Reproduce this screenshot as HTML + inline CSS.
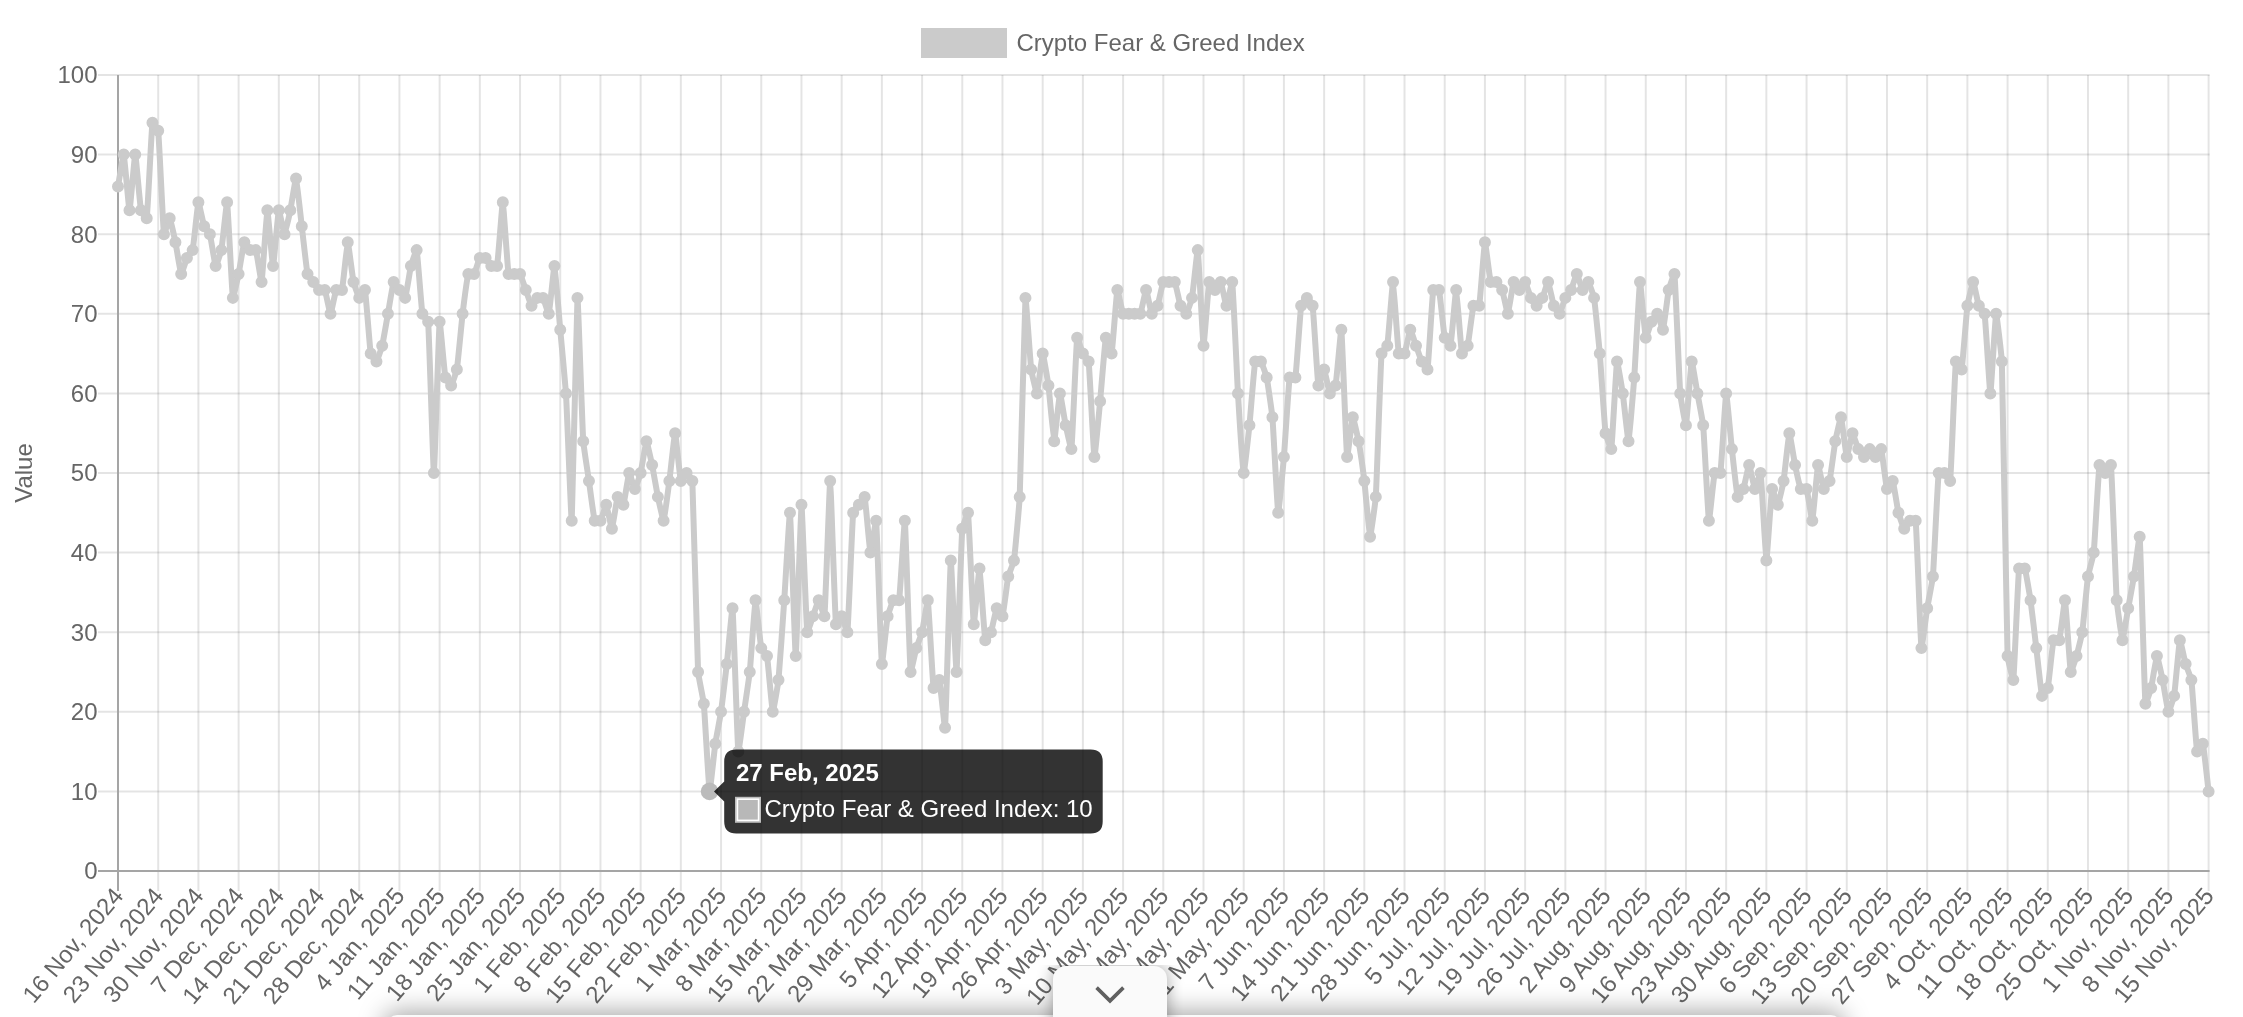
<!DOCTYPE html><html><head><meta charset="utf-8"><title>Crypto Fear &amp; Greed Index</title><style>
html,body{margin:0;padding:0;background:#fff;width:2243px;height:1017px;overflow:hidden;position:relative}
svg{position:absolute;left:0;top:0;display:block;will-change:transform}
text{font-family:"Liberation Sans",sans-serif}
.drawer{position:absolute;left:387px;top:1014.5px;width:1454px;height:60px;background:#fafafa;border-radius:10px;box-shadow:0 0 26px 3px rgba(0,0,0,0.36)}
.tabclip{position:absolute;left:1000px;top:965px;width:220px;height:60px;overflow:hidden}
.tab{position:absolute;left:52.9px;top:0.8px;width:114px;height:80px;background:#fafafa;border-radius:13px 13px 0 0;box-shadow:0 0 16px 1px rgba(0,0,0,0.33)}
</style></head><body>
<svg width="2243" height="1017" viewBox="0 0 2243 1017">
<rect x="921" y="28" width="86" height="30" fill="#cbcbcb"/>
<text x="1016.5" y="50.6" font-size="24" fill="#666">Crypto Fear &amp; Greed Index</text>
<path d="M98 791.40H2209.60M98 711.80H2209.60M98 632.20H2209.60M98 552.60H2209.60M98 473.00H2209.60M98 393.40H2209.60M98 313.80H2209.60M98 234.20H2209.60M98 154.60H2209.60M98 75.00H2209.60" stroke="rgba(0,0,0,0.105)" stroke-width="2" fill="none"/>
<path d="M158.20 75.00V891.00M198.41 75.00V891.00M238.61 75.00V891.00M278.82 75.00V891.00M319.02 75.00V891.00M359.22 75.00V891.00M399.43 75.00V891.00M439.63 75.00V891.00M479.83 75.00V891.00M520.04 75.00V891.00M560.24 75.00V891.00M600.45 75.00V891.00M640.65 75.00V891.00M680.85 75.00V891.00M721.06 75.00V891.00M761.26 75.00V891.00M801.47 75.00V891.00M841.67 75.00V891.00M881.87 75.00V891.00M922.08 75.00V891.00M962.28 75.00V891.00M1002.48 75.00V891.00M1042.69 75.00V891.00M1082.89 75.00V891.00M1123.10 75.00V891.00M1163.30 75.00V891.00M1203.50 75.00V891.00M1243.71 75.00V891.00M1283.91 75.00V891.00M1324.12 75.00V891.00M1364.32 75.00V891.00M1404.52 75.00V891.00M1444.73 75.00V891.00M1484.93 75.00V891.00M1525.13 75.00V891.00M1565.34 75.00V891.00M1605.54 75.00V891.00M1645.75 75.00V891.00M1685.95 75.00V891.00M1726.15 75.00V891.00M1766.36 75.00V891.00M1806.56 75.00V891.00M1846.77 75.00V891.00M1886.97 75.00V891.00M1927.17 75.00V891.00M1967.38 75.00V891.00M2007.58 75.00V891.00M2047.78 75.00V891.00M2087.99 75.00V891.00M2128.19 75.00V891.00M2168.40 75.00V891.00M2208.60 75.00V891.00" stroke="rgba(0,0,0,0.105)" stroke-width="2" fill="none"/>
<path d="M118.00 75.00V891.00M98 871.00H2209.60" stroke="#a5a5a5" stroke-width="2" fill="none"/>
<text x="97.5" y="879.30" font-size="24" fill="#666" text-anchor="end">0</text>
<text x="97.5" y="799.70" font-size="24" fill="#666" text-anchor="end">10</text>
<text x="97.5" y="720.10" font-size="24" fill="#666" text-anchor="end">20</text>
<text x="97.5" y="640.50" font-size="24" fill="#666" text-anchor="end">30</text>
<text x="97.5" y="560.90" font-size="24" fill="#666" text-anchor="end">40</text>
<text x="97.5" y="481.30" font-size="24" fill="#666" text-anchor="end">50</text>
<text x="97.5" y="401.70" font-size="24" fill="#666" text-anchor="end">60</text>
<text x="97.5" y="322.10" font-size="24" fill="#666" text-anchor="end">70</text>
<text x="97.5" y="242.50" font-size="24" fill="#666" text-anchor="end">80</text>
<text x="97.5" y="162.90" font-size="24" fill="#666" text-anchor="end">90</text>
<text x="97.5" y="83.30" font-size="24" fill="#666" text-anchor="end">100</text>
<text transform="translate(32.2 473) rotate(-90)" font-size="24" fill="#666" text-anchor="middle">Value</text>
<text transform="translate(124.50 896.40) rotate(-50)" font-size="24" fill="#666" text-anchor="end">16 Nov, 2024</text>
<text transform="translate(164.70 896.40) rotate(-50)" font-size="24" fill="#666" text-anchor="end">23 Nov, 2024</text>
<text transform="translate(204.91 896.40) rotate(-50)" font-size="24" fill="#666" text-anchor="end">30 Nov, 2024</text>
<text transform="translate(245.11 896.40) rotate(-50)" font-size="24" fill="#666" text-anchor="end">7 Dec, 2024</text>
<text transform="translate(285.32 896.40) rotate(-50)" font-size="24" fill="#666" text-anchor="end">14 Dec, 2024</text>
<text transform="translate(325.52 896.40) rotate(-50)" font-size="24" fill="#666" text-anchor="end">21 Dec, 2024</text>
<text transform="translate(365.72 896.40) rotate(-50)" font-size="24" fill="#666" text-anchor="end">28 Dec, 2024</text>
<text transform="translate(405.93 896.40) rotate(-50)" font-size="24" fill="#666" text-anchor="end">4 Jan, 2025</text>
<text transform="translate(446.13 896.40) rotate(-50)" font-size="24" fill="#666" text-anchor="end">11 Jan, 2025</text>
<text transform="translate(486.33 896.40) rotate(-50)" font-size="24" fill="#666" text-anchor="end">18 Jan, 2025</text>
<text transform="translate(526.54 896.40) rotate(-50)" font-size="24" fill="#666" text-anchor="end">25 Jan, 2025</text>
<text transform="translate(566.74 896.40) rotate(-50)" font-size="24" fill="#666" text-anchor="end">1 Feb, 2025</text>
<text transform="translate(606.95 896.40) rotate(-50)" font-size="24" fill="#666" text-anchor="end">8 Feb, 2025</text>
<text transform="translate(647.15 896.40) rotate(-50)" font-size="24" fill="#666" text-anchor="end">15 Feb, 2025</text>
<text transform="translate(687.35 896.40) rotate(-50)" font-size="24" fill="#666" text-anchor="end">22 Feb, 2025</text>
<text transform="translate(727.56 896.40) rotate(-50)" font-size="24" fill="#666" text-anchor="end">1 Mar, 2025</text>
<text transform="translate(767.76 896.40) rotate(-50)" font-size="24" fill="#666" text-anchor="end">8 Mar, 2025</text>
<text transform="translate(807.97 896.40) rotate(-50)" font-size="24" fill="#666" text-anchor="end">15 Mar, 2025</text>
<text transform="translate(848.17 896.40) rotate(-50)" font-size="24" fill="#666" text-anchor="end">22 Mar, 2025</text>
<text transform="translate(888.37 896.40) rotate(-50)" font-size="24" fill="#666" text-anchor="end">29 Mar, 2025</text>
<text transform="translate(928.58 896.40) rotate(-50)" font-size="24" fill="#666" text-anchor="end">5 Apr, 2025</text>
<text transform="translate(968.78 896.40) rotate(-50)" font-size="24" fill="#666" text-anchor="end">12 Apr, 2025</text>
<text transform="translate(1008.98 896.40) rotate(-50)" font-size="24" fill="#666" text-anchor="end">19 Apr, 2025</text>
<text transform="translate(1049.19 896.40) rotate(-50)" font-size="24" fill="#666" text-anchor="end">26 Apr, 2025</text>
<text transform="translate(1089.39 896.40) rotate(-50)" font-size="24" fill="#666" text-anchor="end">3 May, 2025</text>
<text transform="translate(1129.60 896.40) rotate(-50)" font-size="24" fill="#666" text-anchor="end">10 May, 2025</text>
<text transform="translate(1169.80 896.40) rotate(-50)" font-size="24" fill="#666" text-anchor="end">17 May, 2025</text>
<text transform="translate(1210.00 896.40) rotate(-50)" font-size="24" fill="#666" text-anchor="end">24 May, 2025</text>
<text transform="translate(1250.21 896.40) rotate(-50)" font-size="24" fill="#666" text-anchor="end">31 May, 2025</text>
<text transform="translate(1290.41 896.40) rotate(-50)" font-size="24" fill="#666" text-anchor="end">7 Jun, 2025</text>
<text transform="translate(1330.62 896.40) rotate(-50)" font-size="24" fill="#666" text-anchor="end">14 Jun, 2025</text>
<text transform="translate(1370.82 896.40) rotate(-50)" font-size="24" fill="#666" text-anchor="end">21 Jun, 2025</text>
<text transform="translate(1411.02 896.40) rotate(-50)" font-size="24" fill="#666" text-anchor="end">28 Jun, 2025</text>
<text transform="translate(1451.23 896.40) rotate(-50)" font-size="24" fill="#666" text-anchor="end">5 Jul, 2025</text>
<text transform="translate(1491.43 896.40) rotate(-50)" font-size="24" fill="#666" text-anchor="end">12 Jul, 2025</text>
<text transform="translate(1531.63 896.40) rotate(-50)" font-size="24" fill="#666" text-anchor="end">19 Jul, 2025</text>
<text transform="translate(1571.84 896.40) rotate(-50)" font-size="24" fill="#666" text-anchor="end">26 Jul, 2025</text>
<text transform="translate(1612.04 896.40) rotate(-50)" font-size="24" fill="#666" text-anchor="end">2 Aug, 2025</text>
<text transform="translate(1652.25 896.40) rotate(-50)" font-size="24" fill="#666" text-anchor="end">9 Aug, 2025</text>
<text transform="translate(1692.45 896.40) rotate(-50)" font-size="24" fill="#666" text-anchor="end">16 Aug, 2025</text>
<text transform="translate(1732.65 896.40) rotate(-50)" font-size="24" fill="#666" text-anchor="end">23 Aug, 2025</text>
<text transform="translate(1772.86 896.40) rotate(-50)" font-size="24" fill="#666" text-anchor="end">30 Aug, 2025</text>
<text transform="translate(1813.06 896.40) rotate(-50)" font-size="24" fill="#666" text-anchor="end">6 Sep, 2025</text>
<text transform="translate(1853.27 896.40) rotate(-50)" font-size="24" fill="#666" text-anchor="end">13 Sep, 2025</text>
<text transform="translate(1893.47 896.40) rotate(-50)" font-size="24" fill="#666" text-anchor="end">20 Sep, 2025</text>
<text transform="translate(1933.67 896.40) rotate(-50)" font-size="24" fill="#666" text-anchor="end">27 Sep, 2025</text>
<text transform="translate(1973.88 896.40) rotate(-50)" font-size="24" fill="#666" text-anchor="end">4 Oct, 2025</text>
<text transform="translate(2014.08 896.40) rotate(-50)" font-size="24" fill="#666" text-anchor="end">11 Oct, 2025</text>
<text transform="translate(2054.28 896.40) rotate(-50)" font-size="24" fill="#666" text-anchor="end">18 Oct, 2025</text>
<text transform="translate(2094.49 896.40) rotate(-50)" font-size="24" fill="#666" text-anchor="end">25 Oct, 2025</text>
<text transform="translate(2134.69 896.40) rotate(-50)" font-size="24" fill="#666" text-anchor="end">1 Nov, 2025</text>
<text transform="translate(2174.90 896.40) rotate(-50)" font-size="24" fill="#666" text-anchor="end">8 Nov, 2025</text>
<text transform="translate(2215.10 896.40) rotate(-50)" font-size="24" fill="#666" text-anchor="end">15 Nov, 2025</text>
<path d="M118.00 186.44C118.57 183.26 123.32 153.73 123.74 154.60C124.47 156.11 128.91 210.32 129.49 210.32C130.06 210.32 134.66 154.60 135.23 154.60C135.80 154.60 140.00 204.90 140.97 210.32C141.14 211.27 146.61 219.09 146.72 218.28C147.76 210.34 151.42 130.70 152.46 122.76C152.57 121.95 158.10 129.76 158.20 130.72C159.25 140.90 162.96 226.67 163.95 234.20C164.11 235.43 169.22 217.96 169.69 218.28C170.37 218.75 174.94 239.76 175.43 242.16C176.09 245.33 180.42 272.95 181.18 274.00C181.57 274.55 186.19 259.59 186.92 258.08C187.34 257.20 192.47 251.06 192.66 250.12C193.62 245.49 197.65 203.94 198.41 202.36C198.80 201.55 203.33 223.97 204.15 226.24C204.48 227.15 209.63 233.27 209.89 234.20C210.78 237.25 214.88 264.99 215.64 266.04C216.03 266.59 221.08 251.78 221.38 250.12C222.23 245.41 226.74 200.76 227.12 202.36C227.89 205.54 231.95 292.18 232.87 297.88C233.10 299.34 238.12 276.40 238.61 274.00C239.26 270.83 243.47 243.99 244.35 242.16C244.62 241.60 249.37 249.62 250.10 250.12C250.52 250.41 255.67 249.64 255.84 250.12C256.82 252.82 261.23 283.20 261.59 281.96C262.38 279.22 266.68 211.21 267.33 210.32C267.83 209.62 272.50 266.04 273.07 266.04C273.65 266.04 278.02 212.53 278.82 210.32C279.17 209.35 283.98 234.20 284.56 234.20C285.13 234.20 289.81 212.72 290.30 210.32C290.96 207.15 295.58 177.84 296.05 178.48C296.73 179.43 301.21 221.46 301.79 226.24C302.36 231.02 306.58 269.37 307.53 274.00C307.73 274.94 312.70 281.16 313.28 281.96C313.85 282.76 318.29 289.42 319.02 289.92C319.44 290.21 324.54 289.47 324.76 289.92C325.69 291.86 329.93 313.80 330.51 313.80C331.08 313.80 335.32 291.86 336.25 289.92C336.47 289.47 341.87 290.43 341.99 289.92C343.02 285.65 347.11 242.59 347.74 242.16C348.26 241.80 352.67 278.04 353.48 281.96C353.82 283.61 358.50 297.38 359.22 297.88C359.64 298.17 364.81 289.18 364.97 289.92C365.96 294.75 369.71 347.39 370.71 353.60C370.86 354.55 376.03 361.85 376.45 361.56C377.18 361.06 381.80 347.28 382.20 345.64C382.95 342.50 387.37 316.98 387.94 313.80C388.51 310.62 392.80 283.79 393.68 281.96C393.95 281.40 398.85 289.12 399.43 289.92C400.00 290.72 404.90 298.44 405.17 297.88C406.05 296.05 410.16 269.18 410.91 266.04C411.31 264.40 416.42 249.12 416.66 250.12C417.57 253.90 421.40 307.59 422.40 313.80C422.55 314.75 428.07 320.79 428.14 321.76C429.22 336.71 433.31 473.00 433.89 473.00C434.46 473.00 438.79 328.73 439.63 321.76C439.94 319.18 444.40 372.06 445.37 377.48C445.55 378.43 450.70 385.73 451.12 385.44C451.84 384.94 456.59 371.18 456.86 369.52C457.74 364.02 461.94 319.36 462.60 313.80C463.08 309.81 467.34 277.48 468.35 274.00C468.49 273.50 473.80 274.40 474.09 274.00C474.95 272.81 478.98 259.27 479.83 258.08C480.13 257.68 485.15 257.79 485.58 258.08C486.30 258.58 490.60 265.54 491.32 266.04C491.75 266.33 496.97 266.56 497.06 266.04C498.12 260.20 502.27 201.99 502.81 202.36C503.42 202.78 507.49 267.37 508.55 274.00C508.64 274.53 513.72 274.00 514.30 274.00C514.87 274.00 519.75 273.60 520.04 274.00C520.90 275.19 525.21 288.33 525.78 289.92C526.36 291.51 530.80 305.34 531.53 305.84C531.95 306.13 536.54 298.38 537.27 297.88C537.69 297.59 542.72 297.48 543.01 297.88C543.87 299.07 548.46 314.63 548.76 313.80C549.61 311.44 554.01 265.36 554.50 266.04C555.15 266.95 559.67 323.35 560.24 329.72C560.82 336.09 565.60 387.02 565.99 393.40C566.75 406.12 571.31 524.23 571.73 520.76C572.46 514.68 576.77 302.72 577.47 297.88C577.92 294.76 582.32 426.86 583.22 441.16C583.47 445.17 588.38 476.98 588.96 480.96C589.53 484.94 593.70 517.28 594.70 520.76C594.85 521.26 600.16 521.16 600.45 520.76C601.30 519.57 605.72 504.52 606.19 504.84C606.87 505.31 611.44 529.06 611.93 528.72C612.59 528.27 616.80 498.71 617.68 496.88C617.94 496.32 623.15 505.40 623.42 504.84C624.30 503.01 628.41 474.05 629.16 473.00C629.56 472.45 634.33 488.92 634.91 488.92C635.48 488.92 640.26 474.64 640.65 473.00C641.40 469.86 645.74 441.61 646.39 441.16C646.89 440.82 651.64 462.64 652.14 465.04C652.79 468.21 657.23 493.71 657.88 496.88C658.38 499.28 663.19 521.36 663.62 520.76C664.34 519.77 668.84 484.95 669.37 480.96C669.99 476.19 674.54 433.20 675.11 433.20C675.68 433.20 679.90 477.65 680.85 480.96C681.05 481.63 686.02 473.00 686.60 473.00C687.17 473.00 692.28 479.99 692.34 480.96C693.43 499.89 697.10 652.94 698.08 672.00C698.25 675.23 703.52 700.62 703.83 703.84C704.67 712.56 708.83 788.83 709.57 791.40C709.98 792.81 714.63 748.40 715.31 743.64C715.78 740.44 720.60 715.00 721.06 711.80C721.74 707.04 726.27 668.82 726.80 664.04C727.42 658.47 732.22 605.86 732.54 608.32C733.37 614.62 737.39 743.52 738.29 751.60C738.54 753.87 743.46 715.78 744.03 711.80C744.61 707.82 749.36 676.00 749.77 672.00C750.51 664.85 754.83 601.79 755.52 600.36C755.98 599.40 760.31 643.49 761.26 648.12C761.46 649.06 766.83 655.13 767.00 656.08C767.98 661.50 772.02 710.29 772.75 711.80C773.17 712.67 778.16 683.17 778.49 679.96C779.31 672.03 783.69 608.32 784.24 600.36C784.84 591.61 789.54 510.68 789.98 512.80C790.69 516.26 795.16 656.47 795.72 656.08C796.31 655.67 800.84 506.14 801.47 504.84C801.99 503.75 806.19 622.36 807.21 632.20C807.34 633.51 812.38 617.87 812.95 616.28C813.53 614.69 818.12 600.36 818.70 600.36C819.27 600.36 824.31 617.61 824.44 616.28C825.46 605.67 829.62 480.57 830.18 480.96C830.77 481.37 834.85 611.57 835.93 624.24C836.00 625.11 841.25 615.99 841.67 616.28C842.40 616.78 847.27 633.48 847.41 632.20C848.42 623.14 852.09 524.57 853.16 512.80C853.24 511.83 858.33 505.64 858.90 504.84C859.47 504.04 864.47 496.17 864.64 496.88C865.62 500.94 869.66 551.09 870.39 552.60C870.81 553.47 875.92 518.71 876.13 520.76C877.07 529.85 881.01 656.89 881.87 664.04C882.16 666.44 886.77 620.99 887.62 616.28C887.92 614.62 892.50 601.55 893.36 600.36C893.65 599.96 899.03 600.89 899.10 600.36C900.17 592.93 904.45 518.29 904.85 520.76C905.60 525.45 909.60 661.04 910.59 672.00C910.75 673.78 915.65 650.48 916.33 648.12C916.80 646.50 921.68 633.84 922.08 632.20C922.83 629.06 927.51 598.86 927.82 600.36C928.66 604.43 932.53 680.76 933.56 687.92C933.68 688.72 939.11 679.29 939.31 679.96C940.26 683.27 944.79 730.39 945.05 727.72C945.94 718.45 950.10 563.90 950.79 560.56C951.25 558.33 956.03 673.39 956.54 672.00C957.18 670.21 961.25 542.96 962.28 528.72C962.40 527.04 967.87 511.54 968.02 512.80C969.02 521.09 973.00 620.53 973.77 624.24C974.15 626.10 979.01 567.82 979.51 568.52C980.16 569.41 984.24 634.56 985.25 640.16C985.39 640.93 990.67 633.11 991.00 632.20C991.82 629.93 995.92 609.46 996.74 608.32C997.07 607.87 1002.26 616.90 1002.48 616.28C1003.41 613.72 1007.42 580.40 1008.23 576.48C1008.57 574.83 1013.73 562.23 1013.97 560.56C1014.88 554.27 1019.44 503.27 1019.71 496.88C1020.58 477.00 1024.61 307.24 1025.46 297.88C1025.76 294.50 1030.35 362.40 1031.20 369.52C1031.49 371.95 1036.51 394.00 1036.95 393.40C1037.66 392.41 1042.05 354.04 1042.69 353.60C1043.20 353.25 1048.01 382.23 1048.43 385.44C1049.16 390.99 1053.56 440.73 1054.18 441.16C1054.71 441.53 1059.23 394.35 1059.92 393.40C1060.38 392.76 1065.01 422.07 1065.66 425.24C1066.16 427.64 1071.20 450.70 1071.41 449.12C1072.35 441.94 1076.15 345.97 1077.15 337.68C1077.30 336.42 1082.17 352.09 1082.89 353.60C1083.31 354.48 1088.53 360.60 1088.64 361.56C1089.68 370.95 1093.65 454.57 1094.38 457.08C1094.80 458.55 1099.59 406.94 1100.12 401.36C1100.73 395.00 1104.96 341.46 1105.87 337.68C1106.11 336.68 1111.37 354.60 1111.61 353.60C1112.52 349.82 1116.52 292.80 1117.35 289.92C1117.67 288.82 1122.17 311.86 1123.10 313.80C1123.31 314.25 1128.27 313.80 1128.84 313.80C1129.41 313.80 1134.01 313.80 1134.58 313.80C1135.16 313.80 1140.11 314.25 1140.33 313.80C1141.26 311.86 1145.50 289.92 1146.07 289.92C1146.64 289.92 1150.99 312.66 1151.81 313.80C1152.14 314.25 1157.23 306.75 1157.56 305.84C1158.38 303.57 1162.37 283.90 1163.30 281.96C1163.52 281.51 1168.47 281.96 1169.04 281.96C1169.62 281.96 1174.57 281.51 1174.79 281.96C1175.72 283.90 1179.71 303.57 1180.53 305.84C1180.86 306.75 1185.85 314.09 1186.27 313.80C1187.00 313.30 1191.72 299.54 1192.02 297.88C1192.87 293.17 1197.38 248.52 1197.76 250.12C1198.52 253.30 1202.82 343.73 1203.50 345.64C1203.96 346.92 1208.25 286.79 1209.25 281.96C1209.40 281.22 1214.42 289.92 1214.99 289.92C1215.56 289.92 1220.41 281.51 1220.73 281.96C1221.55 283.10 1225.90 305.84 1226.48 305.84C1227.05 305.84 1232.01 280.38 1232.22 281.96C1233.16 289.14 1237.29 382.26 1237.96 393.40C1238.44 401.37 1242.99 471.01 1243.71 473.00C1244.14 474.20 1248.96 430.02 1249.45 425.24C1250.11 418.88 1254.14 367.40 1255.19 361.56C1255.29 361.04 1260.65 361.16 1260.94 361.56C1261.80 362.75 1266.34 375.83 1266.68 377.48C1267.49 381.40 1272.08 413.28 1272.42 417.28C1273.23 426.81 1277.44 510.29 1278.17 512.80C1278.59 514.27 1283.44 462.66 1283.91 457.08C1284.59 449.13 1288.58 384.91 1289.65 377.48C1289.73 376.95 1295.31 378.01 1295.40 377.48C1296.46 370.85 1300.13 312.84 1301.14 305.84C1301.28 304.88 1306.31 297.88 1306.89 297.88C1307.46 297.88 1312.50 304.88 1312.63 305.84C1313.65 313.64 1317.42 380.19 1318.37 385.44C1318.57 386.55 1323.65 369.20 1324.12 369.52C1324.80 369.99 1329.04 392.26 1329.86 393.40C1330.19 393.85 1335.43 386.39 1335.60 385.44C1336.58 380.02 1340.99 327.53 1341.35 329.72C1342.14 334.70 1346.22 450.42 1347.09 457.08C1347.36 459.18 1352.12 418.27 1352.83 417.28C1353.27 416.68 1358.14 438.75 1358.58 441.16C1359.29 445.11 1363.84 476.97 1364.32 480.96C1364.99 486.52 1369.39 535.75 1370.06 536.68C1370.54 537.35 1375.55 500.89 1375.81 496.88C1376.70 482.58 1380.47 367.76 1381.55 353.60C1381.62 352.63 1387.14 346.59 1387.29 345.64C1388.29 339.43 1392.50 281.59 1393.04 281.96C1393.64 282.38 1397.72 346.97 1398.78 353.60C1398.86 354.13 1404.31 354.05 1404.52 353.60C1405.45 351.66 1409.59 330.19 1410.27 329.72C1410.74 329.40 1415.44 344.05 1416.01 345.64C1416.58 347.23 1421.03 360.05 1421.75 361.56C1422.17 362.44 1427.37 370.30 1427.50 369.52C1428.52 363.14 1432.17 297.35 1433.24 289.92C1433.32 289.39 1438.86 289.41 1438.98 289.92C1440.01 294.19 1443.77 333.05 1444.73 337.68C1444.92 338.62 1450.30 346.35 1450.47 345.64C1451.45 341.58 1455.68 289.55 1456.21 289.92C1456.83 290.34 1460.96 348.77 1461.96 353.60C1462.11 354.34 1467.48 346.58 1467.70 345.64C1468.62 341.80 1472.44 309.32 1473.44 305.84C1473.59 305.34 1479.09 306.36 1479.19 305.84C1480.24 300.00 1484.23 243.63 1484.93 242.16C1485.37 241.24 1489.67 278.48 1490.67 281.96C1490.82 282.46 1495.99 281.67 1496.42 281.96C1497.14 282.46 1501.83 289.01 1502.16 289.92C1502.98 292.19 1507.41 314.14 1507.90 313.80C1508.56 313.35 1512.77 283.79 1513.65 281.96C1513.92 281.40 1518.82 289.92 1519.39 289.92C1519.97 289.92 1524.71 281.67 1525.13 281.96C1525.86 282.46 1530.15 296.37 1530.88 297.88C1531.30 298.76 1536.05 305.84 1536.62 305.84C1537.20 305.84 1541.94 298.76 1542.36 297.88C1543.09 296.37 1547.64 281.64 1548.11 281.96C1548.79 282.43 1553.03 303.57 1553.85 305.84C1554.18 306.75 1559.17 314.09 1559.60 313.80C1560.32 313.30 1564.61 299.39 1565.34 297.88C1565.76 297.00 1570.66 290.80 1571.08 289.92C1571.81 288.41 1576.25 274.00 1576.83 274.00C1577.40 274.00 1581.84 289.42 1582.57 289.92C1582.99 290.21 1587.89 281.67 1588.31 281.96C1589.04 282.46 1593.79 296.22 1594.06 297.88C1594.94 303.38 1599.33 348.02 1599.80 353.60C1600.47 361.55 1604.59 425.32 1605.54 433.20C1605.74 434.87 1611.10 450.28 1611.29 449.12C1612.25 443.11 1616.19 365.63 1617.03 361.56C1617.34 360.06 1622.31 390.20 1622.77 393.40C1623.46 398.16 1628.02 441.84 1628.52 441.16C1629.17 440.25 1633.80 383.86 1634.26 377.48C1634.95 367.94 1639.28 284.47 1640.00 281.96C1640.43 280.49 1644.86 334.62 1645.75 337.68C1646.01 338.60 1650.76 323.27 1651.49 321.76C1651.91 320.88 1656.81 313.51 1657.23 313.80C1657.96 314.30 1662.64 330.43 1662.98 329.72C1663.78 328.04 1667.91 293.84 1668.72 289.92C1669.06 288.27 1674.32 272.72 1674.46 274.00C1675.47 283.06 1679.30 381.50 1680.21 393.40C1680.45 396.62 1685.56 426.31 1685.95 425.24C1686.71 423.13 1690.93 363.67 1691.69 361.56C1692.08 360.49 1696.86 390.22 1697.44 393.40C1698.01 396.58 1702.89 422.02 1703.18 425.24C1704.04 434.76 1708.16 517.58 1708.92 520.76C1709.31 522.36 1713.64 477.27 1714.67 473.00C1714.79 472.49 1720.33 473.53 1720.41 473.00C1721.48 465.57 1725.48 394.80 1726.15 393.40C1726.63 392.42 1731.28 443.55 1731.90 449.12C1732.43 453.90 1736.69 493.57 1737.64 496.88C1737.84 497.55 1743.06 489.83 1743.38 488.92C1744.20 486.65 1748.55 465.04 1749.13 465.04C1749.70 465.04 1754.19 488.45 1754.87 488.92C1755.34 489.24 1760.43 471.84 1760.61 473.00C1761.58 479.01 1765.73 559.68 1766.36 560.56C1766.87 561.28 1771.17 493.43 1772.10 488.92C1772.32 487.86 1777.38 505.16 1777.84 504.84C1778.52 504.37 1783.20 483.38 1783.59 480.96C1784.35 476.22 1788.64 434.15 1789.33 433.20C1789.79 432.56 1794.42 461.87 1795.07 465.04C1795.57 467.44 1799.89 486.98 1800.82 488.92C1801.04 489.37 1806.39 488.44 1806.56 488.92C1807.54 491.62 1811.88 521.63 1812.30 520.76C1813.03 519.25 1817.25 467.25 1818.05 465.04C1818.40 464.07 1822.97 487.78 1823.79 488.92C1824.12 489.37 1829.31 481.90 1829.54 480.96C1830.46 477.12 1834.57 445.11 1835.28 441.16C1835.71 438.75 1840.59 416.68 1841.02 417.28C1841.74 418.27 1846.05 456.09 1846.77 457.08C1847.20 457.68 1851.83 433.67 1852.51 433.20C1852.98 432.88 1857.53 447.61 1858.25 449.12C1858.67 450.00 1863.42 457.08 1864.00 457.08C1864.57 457.08 1869.16 449.12 1869.74 449.12C1870.31 449.12 1874.91 457.08 1875.48 457.08C1876.06 457.08 1881.00 448.50 1881.23 449.12C1882.15 451.68 1886.05 486.36 1886.97 488.92C1887.19 489.54 1892.45 480.40 1892.71 480.96C1893.59 482.79 1897.70 509.66 1898.46 512.80C1898.85 514.44 1903.47 528.22 1904.20 528.72C1904.62 529.01 1909.22 521.26 1909.94 520.76C1910.37 520.47 1915.64 520.21 1915.69 520.76C1916.79 532.95 1920.56 641.46 1921.43 648.12C1921.71 650.22 1926.54 612.29 1927.17 608.32C1927.69 605.13 1932.64 579.70 1932.92 576.48C1933.79 566.17 1937.57 482.80 1938.66 473.00C1938.72 472.46 1943.98 472.71 1944.40 473.00C1945.13 473.50 1950.06 481.81 1950.15 480.96C1951.21 470.66 1954.83 371.86 1955.89 361.56C1955.98 360.71 1961.48 370.26 1961.63 369.52C1962.63 364.69 1966.55 312.17 1967.38 305.84C1967.70 303.41 1972.55 281.96 1973.12 281.96C1973.69 281.96 1978.04 303.57 1978.86 305.84C1979.19 306.75 1984.48 312.84 1984.61 313.80C1985.63 321.60 1989.78 393.40 1990.35 393.40C1990.92 393.40 1995.38 315.79 1996.09 313.80C1996.53 312.60 2001.68 356.76 2001.84 361.56C2002.82 390.98 2006.52 626.69 2007.58 656.08C2007.67 658.53 2013.12 681.54 2013.32 679.96C2014.27 672.78 2017.98 579.12 2019.07 568.52C2019.12 567.97 2024.64 568.04 2024.81 568.52C2025.79 571.22 2030.09 597.16 2030.55 600.36C2031.24 605.12 2035.72 643.34 2036.30 648.12C2036.87 652.90 2041.09 692.57 2042.04 695.88C2042.24 696.55 2047.59 688.86 2047.78 687.92C2048.74 683.29 2052.50 644.43 2053.53 640.16C2053.65 639.65 2059.13 640.66 2059.27 640.16C2060.28 636.68 2064.60 599.22 2065.01 600.36C2065.75 602.40 2069.83 667.49 2070.76 672.00C2070.98 673.06 2076.03 657.70 2076.50 656.08C2077.18 653.72 2081.89 634.63 2082.25 632.20C2083.04 626.67 2087.19 582.01 2087.99 576.48C2088.34 574.05 2093.48 555.04 2093.73 552.60C2094.63 543.89 2098.44 472.20 2099.48 465.04C2099.59 464.24 2104.64 473.00 2105.22 473.00C2105.79 473.00 2110.88 464.18 2110.96 465.04C2112.03 476.92 2115.82 586.86 2116.71 600.36C2116.97 604.37 2121.81 639.72 2122.45 640.16C2122.96 640.51 2127.62 611.50 2128.19 608.32C2128.77 605.14 2133.42 579.67 2133.94 576.48C2134.57 572.51 2139.46 534.21 2139.68 536.68C2140.61 546.95 2144.38 690.11 2145.42 703.84C2145.53 705.23 2150.77 689.56 2151.17 687.92C2151.92 684.78 2156.26 656.53 2156.91 656.08C2157.41 655.74 2162.16 677.56 2162.65 679.96C2163.31 683.13 2167.64 710.75 2168.40 711.80C2168.79 712.35 2173.87 697.54 2174.14 695.88C2175.02 690.38 2179.08 642.37 2179.88 640.16C2180.23 639.19 2184.95 661.68 2185.63 664.04C2186.09 665.66 2191.15 678.29 2191.37 679.96C2192.30 687.05 2196.10 746.00 2197.11 751.60C2197.25 752.37 2202.66 742.97 2202.86 743.64C2203.81 746.95 2208.03 786.62 2208.60 791.40" stroke="#cbcbcb" stroke-width="6" fill="none" stroke-linejoin="round"/>
<path d="M112.00 186.44a6 6 0 1 0 12 0a6 6 0 1 0 -12 0M117.74 154.60a6 6 0 1 0 12 0a6 6 0 1 0 -12 0M123.49 210.32a6 6 0 1 0 12 0a6 6 0 1 0 -12 0M129.23 154.60a6 6 0 1 0 12 0a6 6 0 1 0 -12 0M134.97 210.32a6 6 0 1 0 12 0a6 6 0 1 0 -12 0M140.72 218.28a6 6 0 1 0 12 0a6 6 0 1 0 -12 0M146.46 122.76a6 6 0 1 0 12 0a6 6 0 1 0 -12 0M152.20 130.72a6 6 0 1 0 12 0a6 6 0 1 0 -12 0M157.95 234.20a6 6 0 1 0 12 0a6 6 0 1 0 -12 0M163.69 218.28a6 6 0 1 0 12 0a6 6 0 1 0 -12 0M169.43 242.16a6 6 0 1 0 12 0a6 6 0 1 0 -12 0M175.18 274.00a6 6 0 1 0 12 0a6 6 0 1 0 -12 0M180.92 258.08a6 6 0 1 0 12 0a6 6 0 1 0 -12 0M186.66 250.12a6 6 0 1 0 12 0a6 6 0 1 0 -12 0M192.41 202.36a6 6 0 1 0 12 0a6 6 0 1 0 -12 0M198.15 226.24a6 6 0 1 0 12 0a6 6 0 1 0 -12 0M203.89 234.20a6 6 0 1 0 12 0a6 6 0 1 0 -12 0M209.64 266.04a6 6 0 1 0 12 0a6 6 0 1 0 -12 0M215.38 250.12a6 6 0 1 0 12 0a6 6 0 1 0 -12 0M221.12 202.36a6 6 0 1 0 12 0a6 6 0 1 0 -12 0M226.87 297.88a6 6 0 1 0 12 0a6 6 0 1 0 -12 0M232.61 274.00a6 6 0 1 0 12 0a6 6 0 1 0 -12 0M238.35 242.16a6 6 0 1 0 12 0a6 6 0 1 0 -12 0M244.10 250.12a6 6 0 1 0 12 0a6 6 0 1 0 -12 0M249.84 250.12a6 6 0 1 0 12 0a6 6 0 1 0 -12 0M255.59 281.96a6 6 0 1 0 12 0a6 6 0 1 0 -12 0M261.33 210.32a6 6 0 1 0 12 0a6 6 0 1 0 -12 0M267.07 266.04a6 6 0 1 0 12 0a6 6 0 1 0 -12 0M272.82 210.32a6 6 0 1 0 12 0a6 6 0 1 0 -12 0M278.56 234.20a6 6 0 1 0 12 0a6 6 0 1 0 -12 0M284.30 210.32a6 6 0 1 0 12 0a6 6 0 1 0 -12 0M290.05 178.48a6 6 0 1 0 12 0a6 6 0 1 0 -12 0M295.79 226.24a6 6 0 1 0 12 0a6 6 0 1 0 -12 0M301.53 274.00a6 6 0 1 0 12 0a6 6 0 1 0 -12 0M307.28 281.96a6 6 0 1 0 12 0a6 6 0 1 0 -12 0M313.02 289.92a6 6 0 1 0 12 0a6 6 0 1 0 -12 0M318.76 289.92a6 6 0 1 0 12 0a6 6 0 1 0 -12 0M324.51 313.80a6 6 0 1 0 12 0a6 6 0 1 0 -12 0M330.25 289.92a6 6 0 1 0 12 0a6 6 0 1 0 -12 0M335.99 289.92a6 6 0 1 0 12 0a6 6 0 1 0 -12 0M341.74 242.16a6 6 0 1 0 12 0a6 6 0 1 0 -12 0M347.48 281.96a6 6 0 1 0 12 0a6 6 0 1 0 -12 0M353.22 297.88a6 6 0 1 0 12 0a6 6 0 1 0 -12 0M358.97 289.92a6 6 0 1 0 12 0a6 6 0 1 0 -12 0M364.71 353.60a6 6 0 1 0 12 0a6 6 0 1 0 -12 0M370.45 361.56a6 6 0 1 0 12 0a6 6 0 1 0 -12 0M376.20 345.64a6 6 0 1 0 12 0a6 6 0 1 0 -12 0M381.94 313.80a6 6 0 1 0 12 0a6 6 0 1 0 -12 0M387.68 281.96a6 6 0 1 0 12 0a6 6 0 1 0 -12 0M393.43 289.92a6 6 0 1 0 12 0a6 6 0 1 0 -12 0M399.17 297.88a6 6 0 1 0 12 0a6 6 0 1 0 -12 0M404.91 266.04a6 6 0 1 0 12 0a6 6 0 1 0 -12 0M410.66 250.12a6 6 0 1 0 12 0a6 6 0 1 0 -12 0M416.40 313.80a6 6 0 1 0 12 0a6 6 0 1 0 -12 0M422.14 321.76a6 6 0 1 0 12 0a6 6 0 1 0 -12 0M427.89 473.00a6 6 0 1 0 12 0a6 6 0 1 0 -12 0M433.63 321.76a6 6 0 1 0 12 0a6 6 0 1 0 -12 0M439.37 377.48a6 6 0 1 0 12 0a6 6 0 1 0 -12 0M445.12 385.44a6 6 0 1 0 12 0a6 6 0 1 0 -12 0M450.86 369.52a6 6 0 1 0 12 0a6 6 0 1 0 -12 0M456.60 313.80a6 6 0 1 0 12 0a6 6 0 1 0 -12 0M462.35 274.00a6 6 0 1 0 12 0a6 6 0 1 0 -12 0M468.09 274.00a6 6 0 1 0 12 0a6 6 0 1 0 -12 0M473.83 258.08a6 6 0 1 0 12 0a6 6 0 1 0 -12 0M479.58 258.08a6 6 0 1 0 12 0a6 6 0 1 0 -12 0M485.32 266.04a6 6 0 1 0 12 0a6 6 0 1 0 -12 0M491.06 266.04a6 6 0 1 0 12 0a6 6 0 1 0 -12 0M496.81 202.36a6 6 0 1 0 12 0a6 6 0 1 0 -12 0M502.55 274.00a6 6 0 1 0 12 0a6 6 0 1 0 -12 0M508.30 274.00a6 6 0 1 0 12 0a6 6 0 1 0 -12 0M514.04 274.00a6 6 0 1 0 12 0a6 6 0 1 0 -12 0M519.78 289.92a6 6 0 1 0 12 0a6 6 0 1 0 -12 0M525.53 305.84a6 6 0 1 0 12 0a6 6 0 1 0 -12 0M531.27 297.88a6 6 0 1 0 12 0a6 6 0 1 0 -12 0M537.01 297.88a6 6 0 1 0 12 0a6 6 0 1 0 -12 0M542.76 313.80a6 6 0 1 0 12 0a6 6 0 1 0 -12 0M548.50 266.04a6 6 0 1 0 12 0a6 6 0 1 0 -12 0M554.24 329.72a6 6 0 1 0 12 0a6 6 0 1 0 -12 0M559.99 393.40a6 6 0 1 0 12 0a6 6 0 1 0 -12 0M565.73 520.76a6 6 0 1 0 12 0a6 6 0 1 0 -12 0M571.47 297.88a6 6 0 1 0 12 0a6 6 0 1 0 -12 0M577.22 441.16a6 6 0 1 0 12 0a6 6 0 1 0 -12 0M582.96 480.96a6 6 0 1 0 12 0a6 6 0 1 0 -12 0M588.70 520.76a6 6 0 1 0 12 0a6 6 0 1 0 -12 0M594.45 520.76a6 6 0 1 0 12 0a6 6 0 1 0 -12 0M600.19 504.84a6 6 0 1 0 12 0a6 6 0 1 0 -12 0M605.93 528.72a6 6 0 1 0 12 0a6 6 0 1 0 -12 0M611.68 496.88a6 6 0 1 0 12 0a6 6 0 1 0 -12 0M617.42 504.84a6 6 0 1 0 12 0a6 6 0 1 0 -12 0M623.16 473.00a6 6 0 1 0 12 0a6 6 0 1 0 -12 0M628.91 488.92a6 6 0 1 0 12 0a6 6 0 1 0 -12 0M634.65 473.00a6 6 0 1 0 12 0a6 6 0 1 0 -12 0M640.39 441.16a6 6 0 1 0 12 0a6 6 0 1 0 -12 0M646.14 465.04a6 6 0 1 0 12 0a6 6 0 1 0 -12 0M651.88 496.88a6 6 0 1 0 12 0a6 6 0 1 0 -12 0M657.62 520.76a6 6 0 1 0 12 0a6 6 0 1 0 -12 0M663.37 480.96a6 6 0 1 0 12 0a6 6 0 1 0 -12 0M669.11 433.20a6 6 0 1 0 12 0a6 6 0 1 0 -12 0M674.85 480.96a6 6 0 1 0 12 0a6 6 0 1 0 -12 0M680.60 473.00a6 6 0 1 0 12 0a6 6 0 1 0 -12 0M686.34 480.96a6 6 0 1 0 12 0a6 6 0 1 0 -12 0M692.08 672.00a6 6 0 1 0 12 0a6 6 0 1 0 -12 0M697.83 703.84a6 6 0 1 0 12 0a6 6 0 1 0 -12 0M703.57 791.40a6 6 0 1 0 12 0a6 6 0 1 0 -12 0M709.31 743.64a6 6 0 1 0 12 0a6 6 0 1 0 -12 0M715.06 711.80a6 6 0 1 0 12 0a6 6 0 1 0 -12 0M720.80 664.04a6 6 0 1 0 12 0a6 6 0 1 0 -12 0M726.54 608.32a6 6 0 1 0 12 0a6 6 0 1 0 -12 0M732.29 751.60a6 6 0 1 0 12 0a6 6 0 1 0 -12 0M738.03 711.80a6 6 0 1 0 12 0a6 6 0 1 0 -12 0M743.77 672.00a6 6 0 1 0 12 0a6 6 0 1 0 -12 0M749.52 600.36a6 6 0 1 0 12 0a6 6 0 1 0 -12 0M755.26 648.12a6 6 0 1 0 12 0a6 6 0 1 0 -12 0M761.00 656.08a6 6 0 1 0 12 0a6 6 0 1 0 -12 0M766.75 711.80a6 6 0 1 0 12 0a6 6 0 1 0 -12 0M772.49 679.96a6 6 0 1 0 12 0a6 6 0 1 0 -12 0M778.24 600.36a6 6 0 1 0 12 0a6 6 0 1 0 -12 0M783.98 512.80a6 6 0 1 0 12 0a6 6 0 1 0 -12 0M789.72 656.08a6 6 0 1 0 12 0a6 6 0 1 0 -12 0M795.47 504.84a6 6 0 1 0 12 0a6 6 0 1 0 -12 0M801.21 632.20a6 6 0 1 0 12 0a6 6 0 1 0 -12 0M806.95 616.28a6 6 0 1 0 12 0a6 6 0 1 0 -12 0M812.70 600.36a6 6 0 1 0 12 0a6 6 0 1 0 -12 0M818.44 616.28a6 6 0 1 0 12 0a6 6 0 1 0 -12 0M824.18 480.96a6 6 0 1 0 12 0a6 6 0 1 0 -12 0M829.93 624.24a6 6 0 1 0 12 0a6 6 0 1 0 -12 0M835.67 616.28a6 6 0 1 0 12 0a6 6 0 1 0 -12 0M841.41 632.20a6 6 0 1 0 12 0a6 6 0 1 0 -12 0M847.16 512.80a6 6 0 1 0 12 0a6 6 0 1 0 -12 0M852.90 504.84a6 6 0 1 0 12 0a6 6 0 1 0 -12 0M858.64 496.88a6 6 0 1 0 12 0a6 6 0 1 0 -12 0M864.39 552.60a6 6 0 1 0 12 0a6 6 0 1 0 -12 0M870.13 520.76a6 6 0 1 0 12 0a6 6 0 1 0 -12 0M875.87 664.04a6 6 0 1 0 12 0a6 6 0 1 0 -12 0M881.62 616.28a6 6 0 1 0 12 0a6 6 0 1 0 -12 0M887.36 600.36a6 6 0 1 0 12 0a6 6 0 1 0 -12 0M893.10 600.36a6 6 0 1 0 12 0a6 6 0 1 0 -12 0M898.85 520.76a6 6 0 1 0 12 0a6 6 0 1 0 -12 0M904.59 672.00a6 6 0 1 0 12 0a6 6 0 1 0 -12 0M910.33 648.12a6 6 0 1 0 12 0a6 6 0 1 0 -12 0M916.08 632.20a6 6 0 1 0 12 0a6 6 0 1 0 -12 0M921.82 600.36a6 6 0 1 0 12 0a6 6 0 1 0 -12 0M927.56 687.92a6 6 0 1 0 12 0a6 6 0 1 0 -12 0M933.31 679.96a6 6 0 1 0 12 0a6 6 0 1 0 -12 0M939.05 727.72a6 6 0 1 0 12 0a6 6 0 1 0 -12 0M944.79 560.56a6 6 0 1 0 12 0a6 6 0 1 0 -12 0M950.54 672.00a6 6 0 1 0 12 0a6 6 0 1 0 -12 0M956.28 528.72a6 6 0 1 0 12 0a6 6 0 1 0 -12 0M962.02 512.80a6 6 0 1 0 12 0a6 6 0 1 0 -12 0M967.77 624.24a6 6 0 1 0 12 0a6 6 0 1 0 -12 0M973.51 568.52a6 6 0 1 0 12 0a6 6 0 1 0 -12 0M979.25 640.16a6 6 0 1 0 12 0a6 6 0 1 0 -12 0M985.00 632.20a6 6 0 1 0 12 0a6 6 0 1 0 -12 0M990.74 608.32a6 6 0 1 0 12 0a6 6 0 1 0 -12 0M996.48 616.28a6 6 0 1 0 12 0a6 6 0 1 0 -12 0M1002.23 576.48a6 6 0 1 0 12 0a6 6 0 1 0 -12 0M1007.97 560.56a6 6 0 1 0 12 0a6 6 0 1 0 -12 0M1013.71 496.88a6 6 0 1 0 12 0a6 6 0 1 0 -12 0M1019.46 297.88a6 6 0 1 0 12 0a6 6 0 1 0 -12 0M1025.20 369.52a6 6 0 1 0 12 0a6 6 0 1 0 -12 0M1030.95 393.40a6 6 0 1 0 12 0a6 6 0 1 0 -12 0M1036.69 353.60a6 6 0 1 0 12 0a6 6 0 1 0 -12 0M1042.43 385.44a6 6 0 1 0 12 0a6 6 0 1 0 -12 0M1048.18 441.16a6 6 0 1 0 12 0a6 6 0 1 0 -12 0M1053.92 393.40a6 6 0 1 0 12 0a6 6 0 1 0 -12 0M1059.66 425.24a6 6 0 1 0 12 0a6 6 0 1 0 -12 0M1065.41 449.12a6 6 0 1 0 12 0a6 6 0 1 0 -12 0M1071.15 337.68a6 6 0 1 0 12 0a6 6 0 1 0 -12 0M1076.89 353.60a6 6 0 1 0 12 0a6 6 0 1 0 -12 0M1082.64 361.56a6 6 0 1 0 12 0a6 6 0 1 0 -12 0M1088.38 457.08a6 6 0 1 0 12 0a6 6 0 1 0 -12 0M1094.12 401.36a6 6 0 1 0 12 0a6 6 0 1 0 -12 0M1099.87 337.68a6 6 0 1 0 12 0a6 6 0 1 0 -12 0M1105.61 353.60a6 6 0 1 0 12 0a6 6 0 1 0 -12 0M1111.35 289.92a6 6 0 1 0 12 0a6 6 0 1 0 -12 0M1117.10 313.80a6 6 0 1 0 12 0a6 6 0 1 0 -12 0M1122.84 313.80a6 6 0 1 0 12 0a6 6 0 1 0 -12 0M1128.58 313.80a6 6 0 1 0 12 0a6 6 0 1 0 -12 0M1134.33 313.80a6 6 0 1 0 12 0a6 6 0 1 0 -12 0M1140.07 289.92a6 6 0 1 0 12 0a6 6 0 1 0 -12 0M1145.81 313.80a6 6 0 1 0 12 0a6 6 0 1 0 -12 0M1151.56 305.84a6 6 0 1 0 12 0a6 6 0 1 0 -12 0M1157.30 281.96a6 6 0 1 0 12 0a6 6 0 1 0 -12 0M1163.04 281.96a6 6 0 1 0 12 0a6 6 0 1 0 -12 0M1168.79 281.96a6 6 0 1 0 12 0a6 6 0 1 0 -12 0M1174.53 305.84a6 6 0 1 0 12 0a6 6 0 1 0 -12 0M1180.27 313.80a6 6 0 1 0 12 0a6 6 0 1 0 -12 0M1186.02 297.88a6 6 0 1 0 12 0a6 6 0 1 0 -12 0M1191.76 250.12a6 6 0 1 0 12 0a6 6 0 1 0 -12 0M1197.50 345.64a6 6 0 1 0 12 0a6 6 0 1 0 -12 0M1203.25 281.96a6 6 0 1 0 12 0a6 6 0 1 0 -12 0M1208.99 289.92a6 6 0 1 0 12 0a6 6 0 1 0 -12 0M1214.73 281.96a6 6 0 1 0 12 0a6 6 0 1 0 -12 0M1220.48 305.84a6 6 0 1 0 12 0a6 6 0 1 0 -12 0M1226.22 281.96a6 6 0 1 0 12 0a6 6 0 1 0 -12 0M1231.96 393.40a6 6 0 1 0 12 0a6 6 0 1 0 -12 0M1237.71 473.00a6 6 0 1 0 12 0a6 6 0 1 0 -12 0M1243.45 425.24a6 6 0 1 0 12 0a6 6 0 1 0 -12 0M1249.19 361.56a6 6 0 1 0 12 0a6 6 0 1 0 -12 0M1254.94 361.56a6 6 0 1 0 12 0a6 6 0 1 0 -12 0M1260.68 377.48a6 6 0 1 0 12 0a6 6 0 1 0 -12 0M1266.42 417.28a6 6 0 1 0 12 0a6 6 0 1 0 -12 0M1272.17 512.80a6 6 0 1 0 12 0a6 6 0 1 0 -12 0M1277.91 457.08a6 6 0 1 0 12 0a6 6 0 1 0 -12 0M1283.65 377.48a6 6 0 1 0 12 0a6 6 0 1 0 -12 0M1289.40 377.48a6 6 0 1 0 12 0a6 6 0 1 0 -12 0M1295.14 305.84a6 6 0 1 0 12 0a6 6 0 1 0 -12 0M1300.89 297.88a6 6 0 1 0 12 0a6 6 0 1 0 -12 0M1306.63 305.84a6 6 0 1 0 12 0a6 6 0 1 0 -12 0M1312.37 385.44a6 6 0 1 0 12 0a6 6 0 1 0 -12 0M1318.12 369.52a6 6 0 1 0 12 0a6 6 0 1 0 -12 0M1323.86 393.40a6 6 0 1 0 12 0a6 6 0 1 0 -12 0M1329.60 385.44a6 6 0 1 0 12 0a6 6 0 1 0 -12 0M1335.35 329.72a6 6 0 1 0 12 0a6 6 0 1 0 -12 0M1341.09 457.08a6 6 0 1 0 12 0a6 6 0 1 0 -12 0M1346.83 417.28a6 6 0 1 0 12 0a6 6 0 1 0 -12 0M1352.58 441.16a6 6 0 1 0 12 0a6 6 0 1 0 -12 0M1358.32 480.96a6 6 0 1 0 12 0a6 6 0 1 0 -12 0M1364.06 536.68a6 6 0 1 0 12 0a6 6 0 1 0 -12 0M1369.81 496.88a6 6 0 1 0 12 0a6 6 0 1 0 -12 0M1375.55 353.60a6 6 0 1 0 12 0a6 6 0 1 0 -12 0M1381.29 345.64a6 6 0 1 0 12 0a6 6 0 1 0 -12 0M1387.04 281.96a6 6 0 1 0 12 0a6 6 0 1 0 -12 0M1392.78 353.60a6 6 0 1 0 12 0a6 6 0 1 0 -12 0M1398.52 353.60a6 6 0 1 0 12 0a6 6 0 1 0 -12 0M1404.27 329.72a6 6 0 1 0 12 0a6 6 0 1 0 -12 0M1410.01 345.64a6 6 0 1 0 12 0a6 6 0 1 0 -12 0M1415.75 361.56a6 6 0 1 0 12 0a6 6 0 1 0 -12 0M1421.50 369.52a6 6 0 1 0 12 0a6 6 0 1 0 -12 0M1427.24 289.92a6 6 0 1 0 12 0a6 6 0 1 0 -12 0M1432.98 289.92a6 6 0 1 0 12 0a6 6 0 1 0 -12 0M1438.73 337.68a6 6 0 1 0 12 0a6 6 0 1 0 -12 0M1444.47 345.64a6 6 0 1 0 12 0a6 6 0 1 0 -12 0M1450.21 289.92a6 6 0 1 0 12 0a6 6 0 1 0 -12 0M1455.96 353.60a6 6 0 1 0 12 0a6 6 0 1 0 -12 0M1461.70 345.64a6 6 0 1 0 12 0a6 6 0 1 0 -12 0M1467.44 305.84a6 6 0 1 0 12 0a6 6 0 1 0 -12 0M1473.19 305.84a6 6 0 1 0 12 0a6 6 0 1 0 -12 0M1478.93 242.16a6 6 0 1 0 12 0a6 6 0 1 0 -12 0M1484.67 281.96a6 6 0 1 0 12 0a6 6 0 1 0 -12 0M1490.42 281.96a6 6 0 1 0 12 0a6 6 0 1 0 -12 0M1496.16 289.92a6 6 0 1 0 12 0a6 6 0 1 0 -12 0M1501.90 313.80a6 6 0 1 0 12 0a6 6 0 1 0 -12 0M1507.65 281.96a6 6 0 1 0 12 0a6 6 0 1 0 -12 0M1513.39 289.92a6 6 0 1 0 12 0a6 6 0 1 0 -12 0M1519.13 281.96a6 6 0 1 0 12 0a6 6 0 1 0 -12 0M1524.88 297.88a6 6 0 1 0 12 0a6 6 0 1 0 -12 0M1530.62 305.84a6 6 0 1 0 12 0a6 6 0 1 0 -12 0M1536.36 297.88a6 6 0 1 0 12 0a6 6 0 1 0 -12 0M1542.11 281.96a6 6 0 1 0 12 0a6 6 0 1 0 -12 0M1547.85 305.84a6 6 0 1 0 12 0a6 6 0 1 0 -12 0M1553.60 313.80a6 6 0 1 0 12 0a6 6 0 1 0 -12 0M1559.34 297.88a6 6 0 1 0 12 0a6 6 0 1 0 -12 0M1565.08 289.92a6 6 0 1 0 12 0a6 6 0 1 0 -12 0M1570.83 274.00a6 6 0 1 0 12 0a6 6 0 1 0 -12 0M1576.57 289.92a6 6 0 1 0 12 0a6 6 0 1 0 -12 0M1582.31 281.96a6 6 0 1 0 12 0a6 6 0 1 0 -12 0M1588.06 297.88a6 6 0 1 0 12 0a6 6 0 1 0 -12 0M1593.80 353.60a6 6 0 1 0 12 0a6 6 0 1 0 -12 0M1599.54 433.20a6 6 0 1 0 12 0a6 6 0 1 0 -12 0M1605.29 449.12a6 6 0 1 0 12 0a6 6 0 1 0 -12 0M1611.03 361.56a6 6 0 1 0 12 0a6 6 0 1 0 -12 0M1616.77 393.40a6 6 0 1 0 12 0a6 6 0 1 0 -12 0M1622.52 441.16a6 6 0 1 0 12 0a6 6 0 1 0 -12 0M1628.26 377.48a6 6 0 1 0 12 0a6 6 0 1 0 -12 0M1634.00 281.96a6 6 0 1 0 12 0a6 6 0 1 0 -12 0M1639.75 337.68a6 6 0 1 0 12 0a6 6 0 1 0 -12 0M1645.49 321.76a6 6 0 1 0 12 0a6 6 0 1 0 -12 0M1651.23 313.80a6 6 0 1 0 12 0a6 6 0 1 0 -12 0M1656.98 329.72a6 6 0 1 0 12 0a6 6 0 1 0 -12 0M1662.72 289.92a6 6 0 1 0 12 0a6 6 0 1 0 -12 0M1668.46 274.00a6 6 0 1 0 12 0a6 6 0 1 0 -12 0M1674.21 393.40a6 6 0 1 0 12 0a6 6 0 1 0 -12 0M1679.95 425.24a6 6 0 1 0 12 0a6 6 0 1 0 -12 0M1685.69 361.56a6 6 0 1 0 12 0a6 6 0 1 0 -12 0M1691.44 393.40a6 6 0 1 0 12 0a6 6 0 1 0 -12 0M1697.18 425.24a6 6 0 1 0 12 0a6 6 0 1 0 -12 0M1702.92 520.76a6 6 0 1 0 12 0a6 6 0 1 0 -12 0M1708.67 473.00a6 6 0 1 0 12 0a6 6 0 1 0 -12 0M1714.41 473.00a6 6 0 1 0 12 0a6 6 0 1 0 -12 0M1720.15 393.40a6 6 0 1 0 12 0a6 6 0 1 0 -12 0M1725.90 449.12a6 6 0 1 0 12 0a6 6 0 1 0 -12 0M1731.64 496.88a6 6 0 1 0 12 0a6 6 0 1 0 -12 0M1737.38 488.92a6 6 0 1 0 12 0a6 6 0 1 0 -12 0M1743.13 465.04a6 6 0 1 0 12 0a6 6 0 1 0 -12 0M1748.87 488.92a6 6 0 1 0 12 0a6 6 0 1 0 -12 0M1754.61 473.00a6 6 0 1 0 12 0a6 6 0 1 0 -12 0M1760.36 560.56a6 6 0 1 0 12 0a6 6 0 1 0 -12 0M1766.10 488.92a6 6 0 1 0 12 0a6 6 0 1 0 -12 0M1771.84 504.84a6 6 0 1 0 12 0a6 6 0 1 0 -12 0M1777.59 480.96a6 6 0 1 0 12 0a6 6 0 1 0 -12 0M1783.33 433.20a6 6 0 1 0 12 0a6 6 0 1 0 -12 0M1789.07 465.04a6 6 0 1 0 12 0a6 6 0 1 0 -12 0M1794.82 488.92a6 6 0 1 0 12 0a6 6 0 1 0 -12 0M1800.56 488.92a6 6 0 1 0 12 0a6 6 0 1 0 -12 0M1806.30 520.76a6 6 0 1 0 12 0a6 6 0 1 0 -12 0M1812.05 465.04a6 6 0 1 0 12 0a6 6 0 1 0 -12 0M1817.79 488.92a6 6 0 1 0 12 0a6 6 0 1 0 -12 0M1823.54 480.96a6 6 0 1 0 12 0a6 6 0 1 0 -12 0M1829.28 441.16a6 6 0 1 0 12 0a6 6 0 1 0 -12 0M1835.02 417.28a6 6 0 1 0 12 0a6 6 0 1 0 -12 0M1840.77 457.08a6 6 0 1 0 12 0a6 6 0 1 0 -12 0M1846.51 433.20a6 6 0 1 0 12 0a6 6 0 1 0 -12 0M1852.25 449.12a6 6 0 1 0 12 0a6 6 0 1 0 -12 0M1858.00 457.08a6 6 0 1 0 12 0a6 6 0 1 0 -12 0M1863.74 449.12a6 6 0 1 0 12 0a6 6 0 1 0 -12 0M1869.48 457.08a6 6 0 1 0 12 0a6 6 0 1 0 -12 0M1875.23 449.12a6 6 0 1 0 12 0a6 6 0 1 0 -12 0M1880.97 488.92a6 6 0 1 0 12 0a6 6 0 1 0 -12 0M1886.71 480.96a6 6 0 1 0 12 0a6 6 0 1 0 -12 0M1892.46 512.80a6 6 0 1 0 12 0a6 6 0 1 0 -12 0M1898.20 528.72a6 6 0 1 0 12 0a6 6 0 1 0 -12 0M1903.94 520.76a6 6 0 1 0 12 0a6 6 0 1 0 -12 0M1909.69 520.76a6 6 0 1 0 12 0a6 6 0 1 0 -12 0M1915.43 648.12a6 6 0 1 0 12 0a6 6 0 1 0 -12 0M1921.17 608.32a6 6 0 1 0 12 0a6 6 0 1 0 -12 0M1926.92 576.48a6 6 0 1 0 12 0a6 6 0 1 0 -12 0M1932.66 473.00a6 6 0 1 0 12 0a6 6 0 1 0 -12 0M1938.40 473.00a6 6 0 1 0 12 0a6 6 0 1 0 -12 0M1944.15 480.96a6 6 0 1 0 12 0a6 6 0 1 0 -12 0M1949.89 361.56a6 6 0 1 0 12 0a6 6 0 1 0 -12 0M1955.63 369.52a6 6 0 1 0 12 0a6 6 0 1 0 -12 0M1961.38 305.84a6 6 0 1 0 12 0a6 6 0 1 0 -12 0M1967.12 281.96a6 6 0 1 0 12 0a6 6 0 1 0 -12 0M1972.86 305.84a6 6 0 1 0 12 0a6 6 0 1 0 -12 0M1978.61 313.80a6 6 0 1 0 12 0a6 6 0 1 0 -12 0M1984.35 393.40a6 6 0 1 0 12 0a6 6 0 1 0 -12 0M1990.09 313.80a6 6 0 1 0 12 0a6 6 0 1 0 -12 0M1995.84 361.56a6 6 0 1 0 12 0a6 6 0 1 0 -12 0M2001.58 656.08a6 6 0 1 0 12 0a6 6 0 1 0 -12 0M2007.32 679.96a6 6 0 1 0 12 0a6 6 0 1 0 -12 0M2013.07 568.52a6 6 0 1 0 12 0a6 6 0 1 0 -12 0M2018.81 568.52a6 6 0 1 0 12 0a6 6 0 1 0 -12 0M2024.55 600.36a6 6 0 1 0 12 0a6 6 0 1 0 -12 0M2030.30 648.12a6 6 0 1 0 12 0a6 6 0 1 0 -12 0M2036.04 695.88a6 6 0 1 0 12 0a6 6 0 1 0 -12 0M2041.78 687.92a6 6 0 1 0 12 0a6 6 0 1 0 -12 0M2047.53 640.16a6 6 0 1 0 12 0a6 6 0 1 0 -12 0M2053.27 640.16a6 6 0 1 0 12 0a6 6 0 1 0 -12 0M2059.01 600.36a6 6 0 1 0 12 0a6 6 0 1 0 -12 0M2064.76 672.00a6 6 0 1 0 12 0a6 6 0 1 0 -12 0M2070.50 656.08a6 6 0 1 0 12 0a6 6 0 1 0 -12 0M2076.25 632.20a6 6 0 1 0 12 0a6 6 0 1 0 -12 0M2081.99 576.48a6 6 0 1 0 12 0a6 6 0 1 0 -12 0M2087.73 552.60a6 6 0 1 0 12 0a6 6 0 1 0 -12 0M2093.48 465.04a6 6 0 1 0 12 0a6 6 0 1 0 -12 0M2099.22 473.00a6 6 0 1 0 12 0a6 6 0 1 0 -12 0M2104.96 465.04a6 6 0 1 0 12 0a6 6 0 1 0 -12 0M2110.71 600.36a6 6 0 1 0 12 0a6 6 0 1 0 -12 0M2116.45 640.16a6 6 0 1 0 12 0a6 6 0 1 0 -12 0M2122.19 608.32a6 6 0 1 0 12 0a6 6 0 1 0 -12 0M2127.94 576.48a6 6 0 1 0 12 0a6 6 0 1 0 -12 0M2133.68 536.68a6 6 0 1 0 12 0a6 6 0 1 0 -12 0M2139.42 703.84a6 6 0 1 0 12 0a6 6 0 1 0 -12 0M2145.17 687.92a6 6 0 1 0 12 0a6 6 0 1 0 -12 0M2150.91 656.08a6 6 0 1 0 12 0a6 6 0 1 0 -12 0M2156.65 679.96a6 6 0 1 0 12 0a6 6 0 1 0 -12 0M2162.40 711.80a6 6 0 1 0 12 0a6 6 0 1 0 -12 0M2168.14 695.88a6 6 0 1 0 12 0a6 6 0 1 0 -12 0M2173.88 640.16a6 6 0 1 0 12 0a6 6 0 1 0 -12 0M2179.63 664.04a6 6 0 1 0 12 0a6 6 0 1 0 -12 0M2185.37 679.96a6 6 0 1 0 12 0a6 6 0 1 0 -12 0M2191.11 751.60a6 6 0 1 0 12 0a6 6 0 1 0 -12 0M2196.86 743.64a6 6 0 1 0 12 0a6 6 0 1 0 -12 0M2202.60 791.40a6 6 0 1 0 12 0a6 6 0 1 0 -12 0" fill="#cbcbcb"/>
<circle cx="709.57" cy="791.40" r="8.8" fill="#bbbbbb"/>
<path d="M736.2 749.6H1090.7Q1102.7 749.6 1102.7 761.6V821.4Q1102.7 833.4 1090.7 833.4H736.2Q724.2 833.4 724.2 821.4V801.6L714 791.6L724.2 781.6V761.6Q724.2 749.6 736.2 749.6Z" fill="rgba(0,0,0,0.8)"/>
<text x="736" y="781.3" font-size="24" font-weight="bold" fill="#fff">27 Feb, 2025</text>
<rect x="735" y="796.8" width="26" height="26" fill="#bdbdbd"/>
<rect x="736.6" y="798.4" width="22.8" height="22.8" fill="#fff"/>
<rect x="738.2" y="800" width="19.6" height="19.6" fill="#b8b8b8"/>
<text x="764.5" y="816.8" font-size="24" fill="#fff">Crypto Fear &amp; Greed Index: 10</text>
</svg>
<div class="drawer"></div><div class="tabclip"><div class="tab"></div></div>
<svg width="2243" height="1017" style="pointer-events:none"><path d="M1096.6 987.6L1110 1000.9L1123.4 987.6" stroke="#606060" stroke-width="3.6" fill="none" stroke-linecap="butt" stroke-linejoin="miter"/></svg>
</body></html>
